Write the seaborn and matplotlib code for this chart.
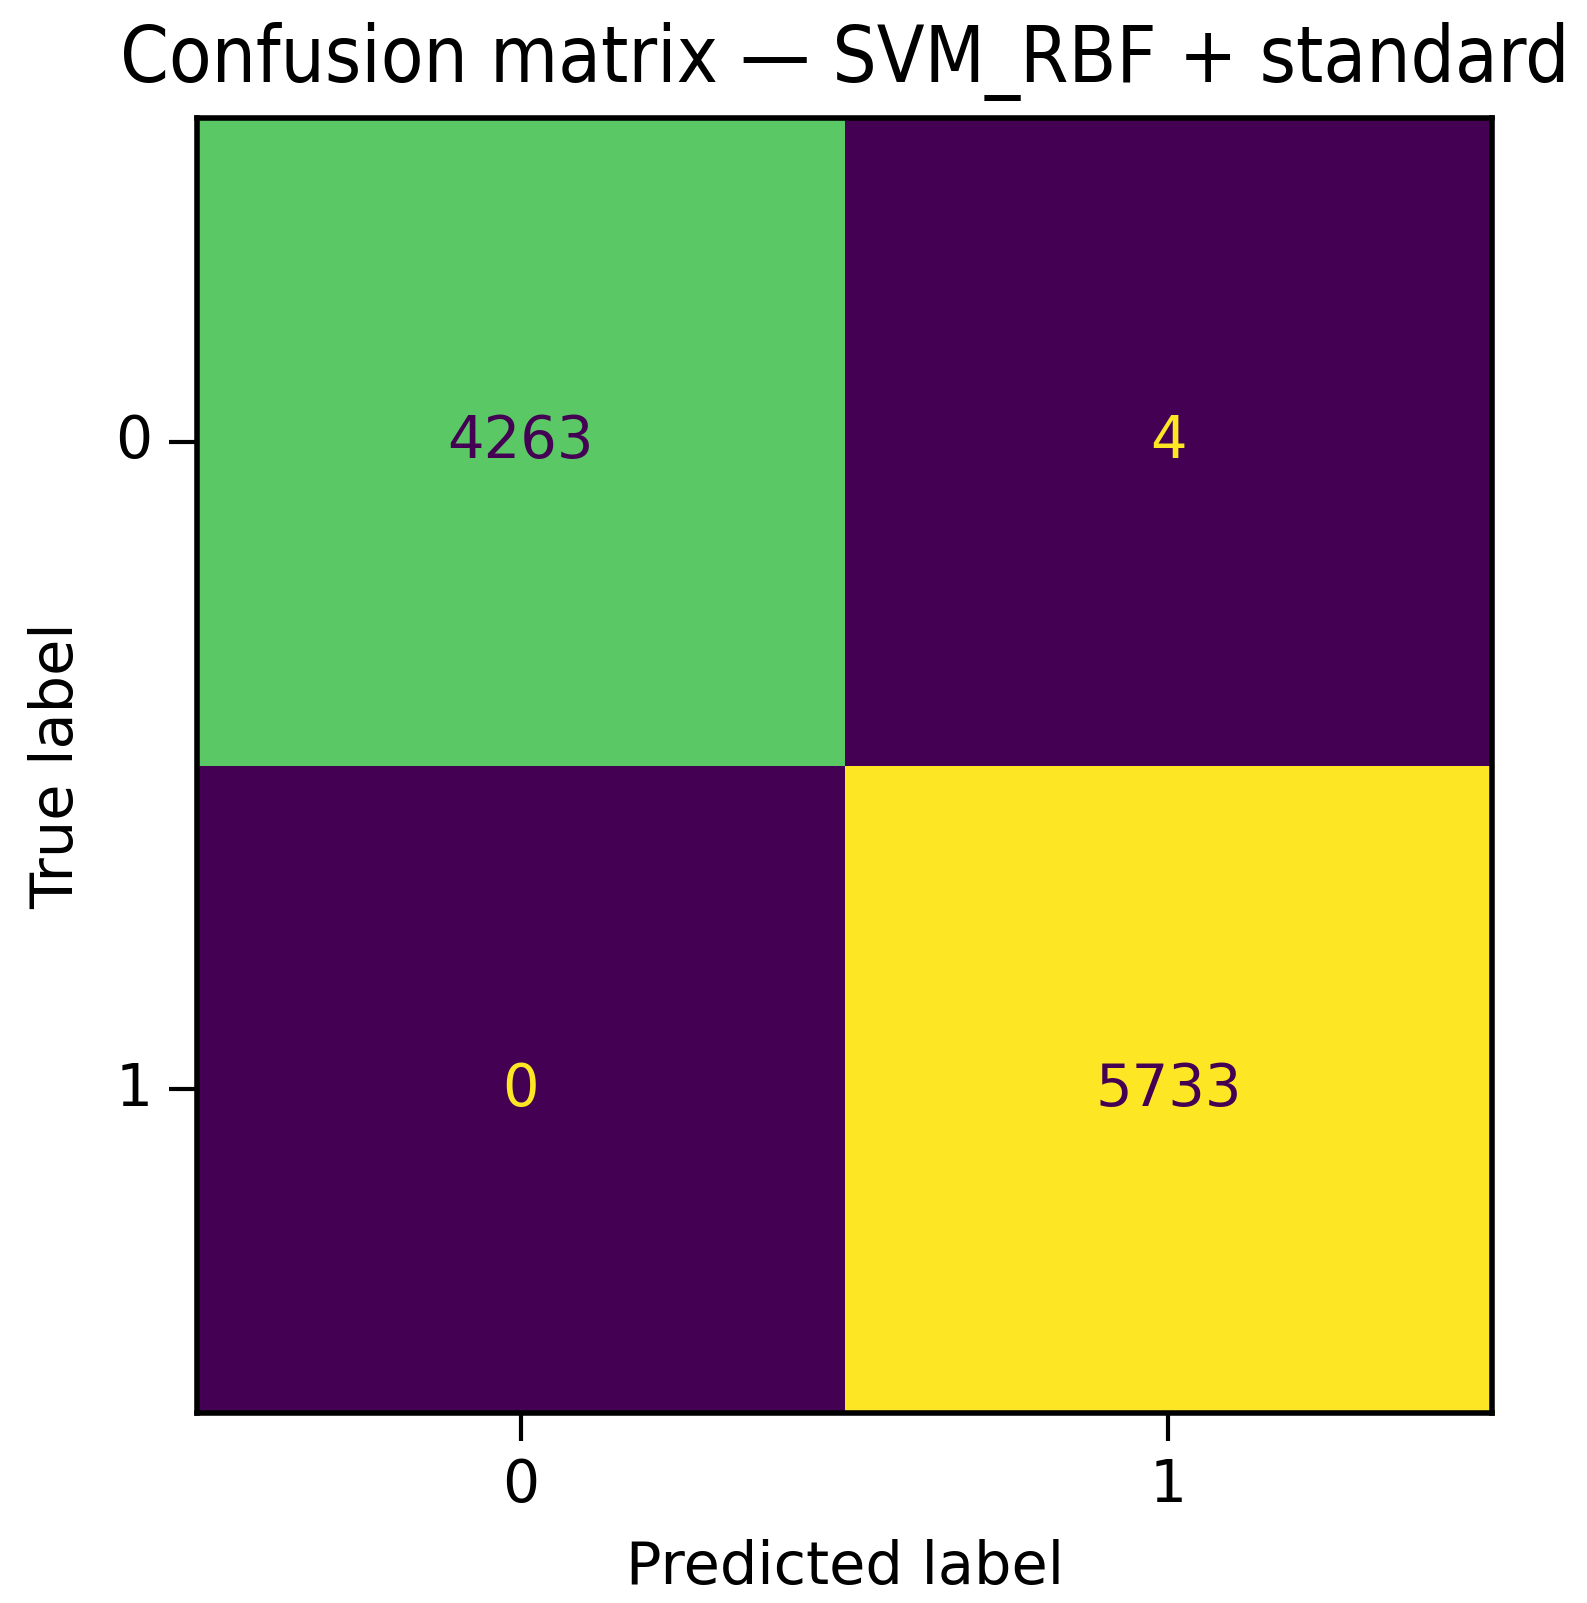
import numpy as np
import pandas as pd
import matplotlib
matplotlib.use("Agg")
import matplotlib.pyplot as plt
import seaborn as sns

true_labels = ["0", "1"]
pred_labels = ["0", "1"]
row_0 = [4263, 4]
row_1 = [0, 5733]
title = "Confusion matrix — SVM_RBF + standard"

plt.rcParams['font.family'] = ['DejaVu Sans']

df = pd.DataFrame([row_0, row_1], index=true_labels, columns=pred_labels)

fig = plt.figure(figsize=(15.87, 16.03), dpi=100)
W, H = 1587, 1603
ax = fig.add_axes([197 / W, 1 - 1413 / H, (1492 - 197) / W, (1413 - 118) / H])

cmap = plt.get_cmap("viridis")
sns.heatmap(df, cmap=cmap, cbar=False, annot=True, fmt="d", ax=ax,
            annot_kws={"fontsize": 41.5})

vals = df.values.ravel()
thresh = (vals.max() + vals.min()) / 2.0
for t, v in zip(ax.texts, vals):
    t.set_color(cmap(1.0) if v < thresh else cmap(0.0))

for sp in ax.spines.values():
    sp.set_visible(True)
    sp.set_linewidth(4)
    sp.set_color("black")

ax.tick_params(axis="both", length=20, width=3, labelsize=42, pad=12)
ax.set_yticklabels(true_labels, rotation=0)
ax.set_xticklabels(pred_labels, rotation=0)
ax.set_xlabel("Predicted label", fontsize=42.5, labelpad=18)
ax.set_ylabel("True label", fontsize=42.5, labelpad=22)
ax.set_title(title, fontsize=56, pad=26, fontstretch="condensed")

fig.savefig("out.png", dpi=100)
